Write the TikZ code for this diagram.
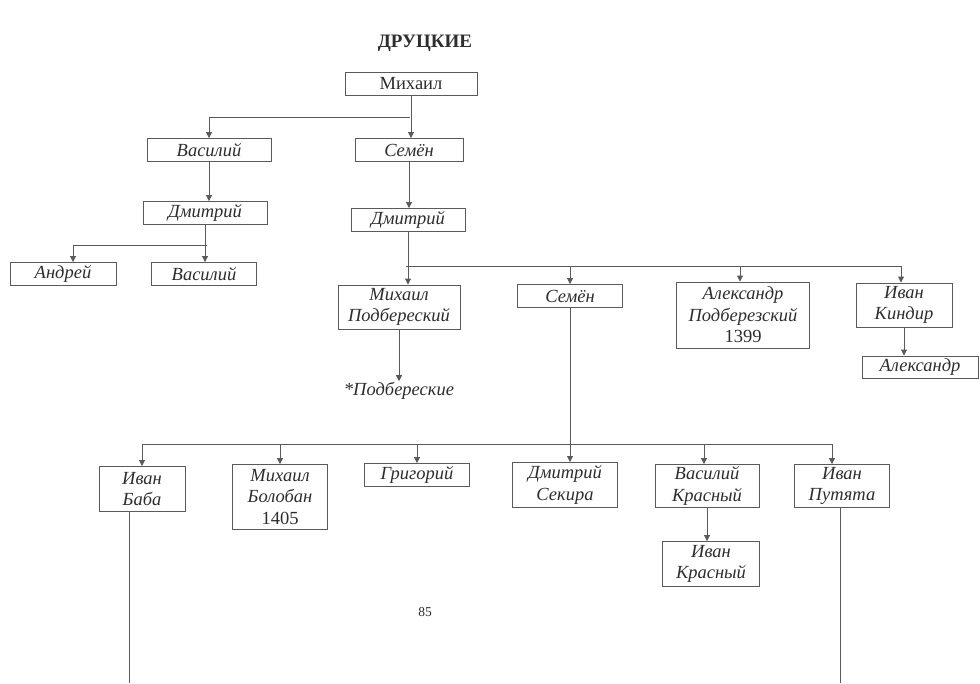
\documentclass[tikz,border=0pt]{standalone}
\usepackage{fontspec}
\setmainfont{Liberation Serif}
\usetikzlibrary{arrows.meta}
\definecolor{lineGray}{RGB}{90,90,90}
\definecolor{textGray}{RGB}{45,45,45}
\tikzset{
	pbox/.style={
		draw=lineGray,
		line width=0.9pt,
		align=center,
		inner sep=1pt,
		minimum height=23pt,
		text=textGray,
		font=\fontsize{18.5}{21.5}\selectfont\itshape
	},
	parr/.style={-{Triangle[length=6pt,width=6pt]}, line width=0.9pt, lineGray},
	pline/.style={line width=0.9pt, lineGray}
}

\begin{document}
\begin{tikzpicture}[x=1pt, y=-1pt]
		\useasboundingbox (0,0) rectangle (980,683);
		\node[font=\fontsize{19}{22}\selectfont\bfseries, text=textGray] (title) at (425,43) {ДРУЦКИЕ};
		% first generations
		\node[pbox, font=\fontsize{18.5}{21.5}\selectfont, minimum width=132pt] (mikh) at (411,84) {Михаил};
		\node[pbox, minimum width=124pt] (vas1) at (209,150) {Василий};
		\node[pbox, minimum width=108pt] (sem1) at (409,150) {Семён};
		\node[pbox, minimum width=124pt] (dmi1) at (205,213) {Дмитрий};
		\node[pbox, minimum width=106pt] (and1) at (63,274) {Андрей};
		\node[pbox, minimum width=105pt] (vas2) at (204,274) {Василий};
		\node[pbox, minimum width=114pt] (dmi2) at (408,220) {Дмитрий};
		% children of Dmitrii
		\node[pbox, minimum width=122pt, minimum height=44pt] (mpod) at (399,307) {Михаил\\Подбереский};
		\node[text=textGray, font=\fontsize{18.5}{21.5}\selectfont\itshape, inner sep=1pt] (podb) at (399,391) {*Подбереские};
		\node[pbox, minimum width=105pt] (sem2) at (570,296) {Семён};
		\node[pbox, minimum width=133pt, minimum height=66pt] (apod) at (743,315) {Александр\\Подберезский\\{\upshape 1399}};
		\node[pbox, minimum width=96pt, minimum height=44pt] (ikin) at (904,305) {Иван\\Киндир};
		\node[pbox, minimum width=116pt, minimum height=22pt] (alex) at (920,367) {Александр};
		% children of Semen
		\node[pbox, minimum width=86pt, minimum height=45pt] (ibab) at (142,489) {Иван\\Баба};
		\node[pbox, minimum width=95pt, minimum height=65pt] (mbol) at (280,497) {Михаил\\Болобан\\{\upshape 1405}};
		\node[pbox, minimum width=105pt] (grig) at (417,475) {Григорий};
		\node[pbox, minimum width=105pt, minimum height=45pt] (dsek) at (565,485) {Дмитрий\\Секира};
		\node[pbox, minimum width=104pt, minimum height=43pt] (vkra) at (707,486) {Василий\\Красный};
		\node[pbox, minimum width=97pt, minimum height=45pt] (ikra) at (711,564) {Иван\\Красный};
		\node[pbox, minimum width=95pt, minimum height=43pt] (iput) at (842,486) {Иван\\Путята};
		\node[text=textGray, font=\fontsize{13.5}{16}\selectfont] (page) at (425,612) {85};
		% connectors
		\coordinate (j0) at (410,117);
		\coordinate (j1) at (207,245);
		\coordinate (j2) at (406,266);
		\coordinate (j3) at (571,444);
		\draw[parr] (mikh.south) -- (mikh.south |- sem1.north);
		\draw[parr] (j0) -| (vas1.north);
		\draw[parr] (vas1.south) -- (vas1.south |- dmi1.north);
		\draw[parr] (dmi1.south) -- (dmi1.south |- vas2.north);
		\draw[parr] (j1) -| ([xshift=10pt]and1.north);
		\draw[parr] (sem1.south) -- (sem1.south |- dmi2.north);
		\draw[parr] (dmi2.south) -- (dmi2.south |- mpod.north);
		\draw[parr] (j2) -| (sem2.north);
		\draw[parr] (j2) -| ([xshift=-3pt]apod.north);
		\draw[parr] (j2) -| ([xshift=-3pt]ikin.north);
		\draw[parr] (ikin.south) -- (ikin.south |- alex.north);
		\draw[parr] (mpod.south) -- (podb.north);
		\draw[parr] (sem2.south) -- (sem2.south |- dsek.north);
		\draw[parr] (j3) -| (ibab.north);
		\draw[parr] (j3) -| (mbol.north);
		\draw[parr] (j3) -| (grig.north);
		\draw[parr] (j3) -| ([xshift=-3pt]vkra.north);
		\draw[parr] (j3) -| ([xshift=-10pt]iput.north);
		\draw[parr] (vkra.south) -- (vkra.south |- ikra.north);
		\coordinate (ibabEnd) at (129,683);
		\coordinate (iputEnd) at (840,683);
		\draw[pline] (ibab.south -| ibabEnd) -- (ibabEnd);
		\draw[pline] (iput.south -| iputEnd) -- (iputEnd);
	\end{tikzpicture}
\end{document}
